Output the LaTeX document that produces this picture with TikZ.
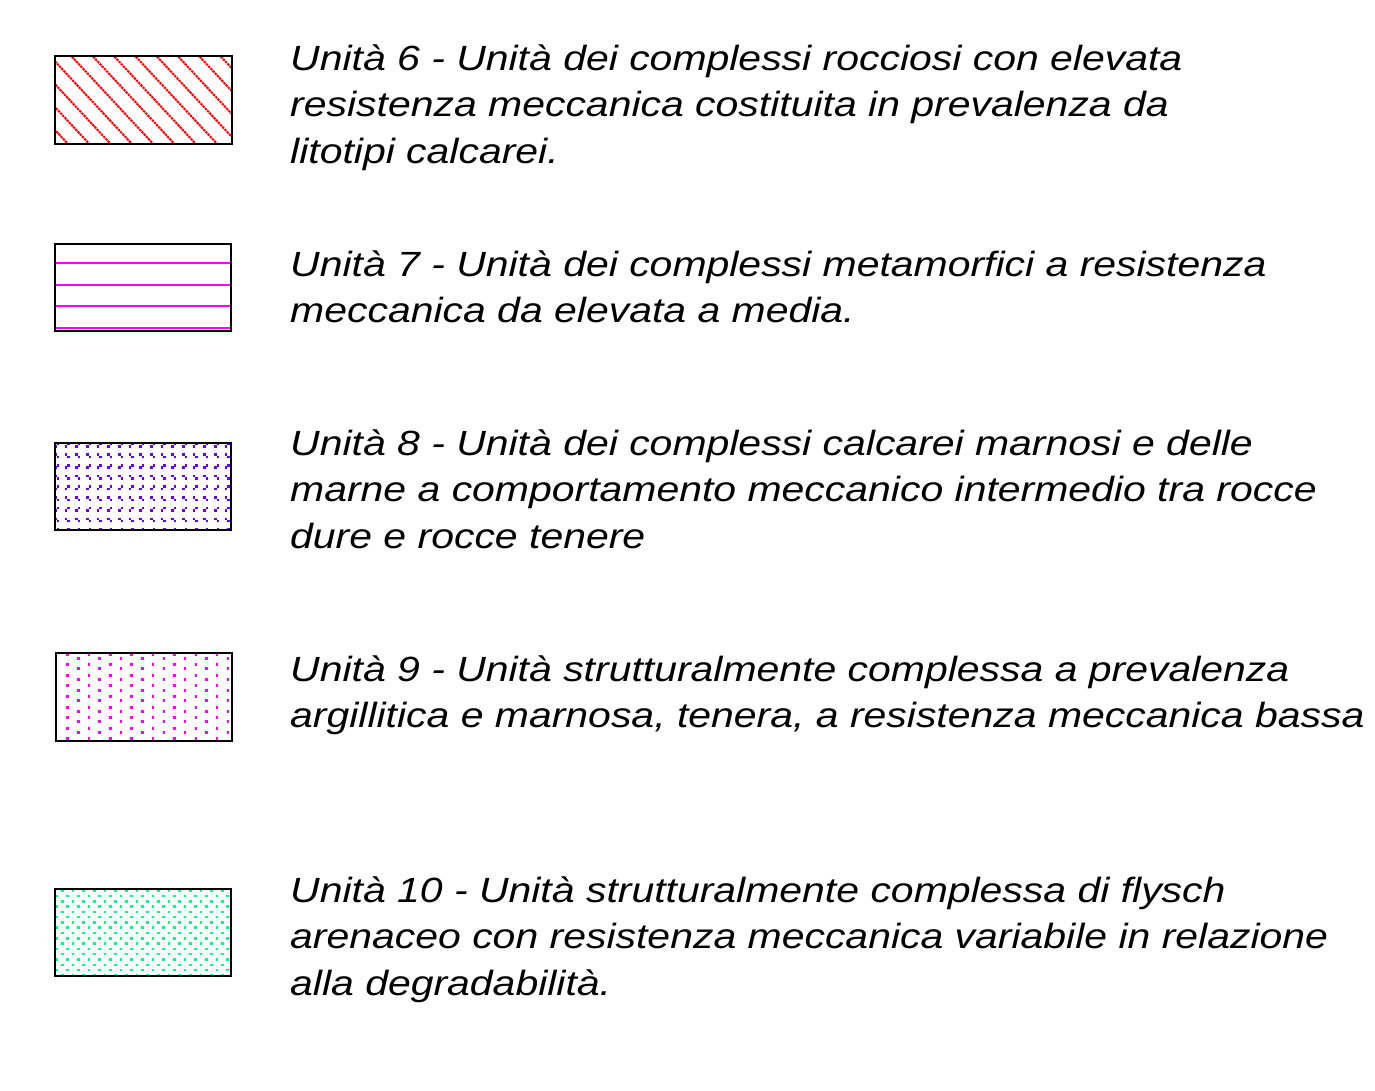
\documentclass[tikz,border=0pt]{standalone}
\usepackage{fontspec}
\setmainfont{Liberation Sans}[FakeStretch=1.17]
\usetikzlibrary{positioning}
\definecolor{hatchred}{RGB}{255,0,0}
\definecolor{linemag}{RGB}{255,0,255}
\definecolor{dotviolet}{RGB}{100,0,255}
\definecolor{dotgreen}{RGB}{0,255,128}

\tikzset{
  legbox/.style={draw=black, line width=2.2pt, minimum width=176pt, minimum height=88pt, inner sep=0pt, outer sep=0pt},
  legtext/.style={anchor=north west, align=left, inner sep=0pt, font=\fontsize{35}{46.5}\selectfont\itshape}
}

\begin{document}
\begin{tikzpicture}[x=1pt,y=-1pt]
\useasboundingbox (0,0) rectangle (1375,1090);

%Fill patterns
\begin{scope}[shift={(55,56)}]
  \clip (0,0) rectangle (177,88);
  \foreach \m in {-4,...,8}
    \draw [hatchred, line width=2pt, dash pattern=on 2.4pt off 0.8pt] (-5+21.3*\m-8.2,-8.8) -- ++(106.6,114.4);
\end{scope}
\begin{scope}[shift={(55,244)}]
  \clip (0,0) rectangle (176,87);
  \foreach \yy in {19,41,62,84}
    \draw [linemag, line width=2.2pt] (-2,\yy) -- (180,\yy);
\end{scope}
\begin{scope}[shift={(55,443)}]
  \clip (0,0) rectangle (176,87);
  \foreach \j in {0,...,8}
    \foreach \i in {0,...,17} {
      \pgfmathsetmacro\xx{1.5+10.67*\i}
      \pgfmathsetmacro\yy{2+10.7*\j}
      \pgfmathsetmacro\sg{ifthenelse(mod(\j,2)==0,1,-1)}
      \fill [dotviolet] (\xx+\sg*1.2-1.2,\yy-2.4) rectangle ++(2.5,2.5);
      \fill [dotviolet] (\xx-\sg*1.2-1.2,\yy) rectangle ++(2.5,2.5);
    }
\end{scope}
\begin{scope}[shift={(56,653)}]
  \clip (0,0) rectangle (176,88);
  \foreach \i in {1,...,16}
    \foreach \j in {0,...,8} {
      \pgfmathsetmacro\xx{1+10.67*\i}
      \pgfmathsetmacro\yy{ifthenelse(mod(\i,2)==1,1,5.3)+10.6*\j}
      \fill [linemag] (\xx-1.2,\yy-1.5) rectangle ++(2.4,3);
    }
\end{scope}
\begin{scope}[shift={(55,889)}]
  \clip (0,0) rectangle (176,87);
  \foreach \j in {0,...,16}
    \foreach \i in {0,...,16} {
      \pgfmathsetmacro\xx{ifthenelse(mod(\j,2)==0,7.3,2)+10.67*\i}
      \pgfmathsetmacro\yy{1.7+5.29*\j}
      \fill [dotgreen] (\xx-1.25,\yy-1.25) rectangle ++(2.5,2.5);
    }
\end{scope}

%Boxes and texts
\node (box6) [legbox, minimum width=177pt] at (143.5,100) {};
\node (txt6) [legtext] at (290,44.5) {Unità 6 - Unità dei complessi rocciosi con elevata\\resistenza meccanica costituita in prevalenza da\\litotipi calcarei.};

\node (box7) [legbox, minimum height=87pt] at (143,287.5) {};
\node (txt7) [legtext] at (290,250.5) {Unità 7 - Unità dei complessi metamorfici a resistenza\\meccanica da elevata a media.};

\node (box8) [legbox, minimum height=87pt] at (143,486.5) {};
\node (txt8) [legtext] at (290,429.5) {Unità 8 - Unità dei complessi calcarei marnosi e delle\\marne a comportamento meccanico intermedio tra rocce\\dure e rocce tenere};

\node (box9) [legbox] at (144,697) {};
\node (txt9) [legtext] at (290,655.5) {Unità 9 - Unità strutturalmente complessa a prevalenza\\argillitica e marnosa, tenera, a resistenza meccanica bassa};

\node (box10) [legbox, minimum height=87pt] at (143,932.5) {};
\node (txt10) [legtext] at (290,876.5) {Unità 10 - Unità strutturalmente complessa di flysch\\arenaceo con resistenza meccanica variabile in relazione\\alla degradabilità.};

\end{tikzpicture}
\end{document}
